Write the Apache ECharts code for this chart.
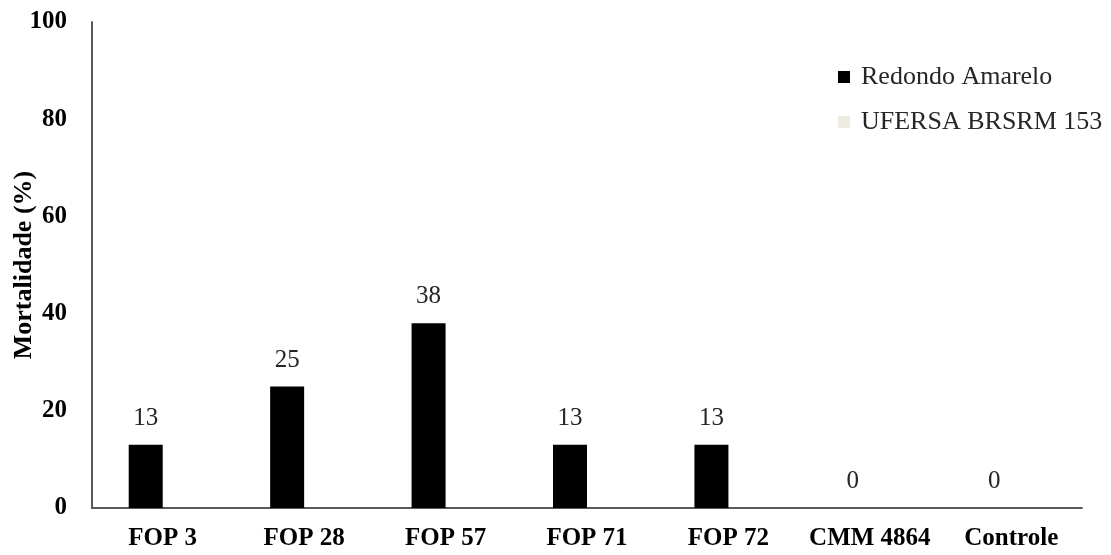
<!DOCTYPE html>
<html>
<head>
<meta charset="utf-8">
<script src="https://cdn.jsdelivr.net/npm/echarts@6/dist/echarts.min.js"></script>
<style>
  html, body { margin: 0; padding: 0; background: #ffffff; }
  #chart { width: 1111px; height: 555px; }
</style>
</head>
<body>
<div id="chart"></div>
<script>
// Mortality (%) per isolate for two cultivars
const categories = ['FOP 3', 'FOP 28', 'FOP 57', 'FOP 71', 'FOP 72', 'CMM 4864', 'Controle'];
const redondoAmarelo = [13, 25, 38, 13, 13, 0, 0];
const ufersaBrsrm153 = [0, 0, 0, 0, 0, 0, 0];
const yTicks = [0, 20, 40, 60, 80, 100];

const serif = '"Liberation Serif", "Times New Roman", Times, serif';

const chart = echarts.init(document.getElementById('chart'), null, { renderer: 'canvas' });

chart.setOption({
  animation: false,
  backgroundColor: '#ffffff',
  grid: {
    left: 92, right: 29, top: 22, bottom: 47,
    containLabel: false,
    outerBoundsMode: 'none'
  },
  legend: {
    orient: 'vertical',
    left: 833,
    top: 59,
    itemWidth: 12,
    itemHeight: 12,
    itemGap: 19,
    icon: 'rect',
    textStyle: {
      fontFamily: serif,
      fontSize: 26,
      color: '#262626',
      padding: [0, 0, 0, 6]
    },
    data: ['Redondo Amarelo', 'UFERSA BRSRM 153']
  },
  xAxis: {
    type: 'category',
    data: categories,
    axisLine: { show: true, lineStyle: { color: '#595959', width: 2 } },
    axisTick: { show: false },
    axisLabel: {
      interval: 0,
      fontFamily: serif,
      fontWeight: 'bold',
      fontSize: 25,
      color: '#000000',
      margin: 18
    }
  },
  yAxis: {
    type: 'value',
    min: yTicks[0],
    max: yTicks[yTicks.length - 1],
    interval: yTicks[1] - yTicks[0],
    name: 'Mortalidade (%)',
    nameLocation: 'middle',
    nameGap: 55,
    nameMoveOverlap: false,
    nameTextStyle: {
      fontFamily: serif,
      fontWeight: 'bold',
      fontSize: 26,
      color: '#000000'
    },
    axisLine: { show: true, lineStyle: { color: '#595959', width: 2 } },
    axisTick: { show: false },
    splitLine: { show: false },
    axisLabel: {
      fontFamily: serif,
      fontWeight: 'bold',
      fontSize: 25,
      color: '#000000',
      margin: 25
    }
  },
  series: [
    {
      name: 'Redondo Amarelo',
      type: 'bar',
      data: redondoAmarelo,
      barWidth: 34,
      barGap: '0%',
      itemStyle: { color: '#000000' },
      label: {
        show: true,
        position: 'top',
        distance: 14,
        fontFamily: serif,
        fontSize: 25,
        color: '#262626'
      }
    },
    {
      name: 'UFERSA BRSRM 153',
      type: 'bar',
      data: ufersaBrsrm153,
      barWidth: 34,
      barGap: '0%',
      itemStyle: { color: '#EEECE1' }
    }
  ]
});
</script>
</body>
</html>
